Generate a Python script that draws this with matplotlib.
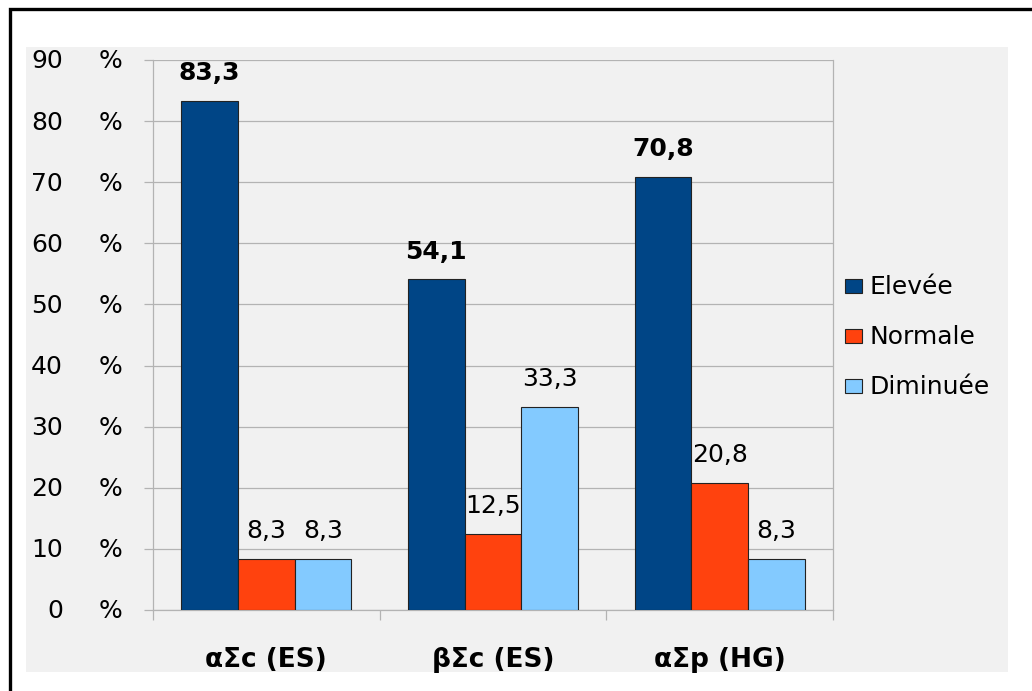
import matplotlib
matplotlib.use("Agg")
import matplotlib.pyplot as plt
import matplotlib.transforms as mtransforms
from matplotlib.patches import Rectangle
from matplotlib.lines import Line2D
import numpy as np

# Data
categories = ["αΣc (ES)", "βΣc (ES)", "αΣp (HG)"]
series_names = ["Elevée", "Normale", "Diminuée"]
elevee = [83.3, 54.1, 70.8]
normale = [8.3, 12.5, 20.8]
diminuee = [8.3, 33.3, 8.3]
y_ticks = [0, 10, 20, 30, 40, 50, 60, 70, 80, 90]

series_values = [elevee, normale, diminuee]
colors = ["#004586", "#ff420e", "#83caff"]
bold_labels = [True, False, False]

plt.rcParams["font.family"] = ["DejaVu Sans"]

W, H, DPI = 1032, 691, 100
fig = plt.figure(figsize=(W / DPI, H / DPI), dpi=DPI)
fig.patch.set_facecolor("white")

# light gray chart panel
bg = Rectangle((26 / W, 1 - 672 / H), (1008 - 26) / W, (672 - 47) / H,
               transform=fig.transFigure, facecolor="#f1f1f1", edgecolor="none", zorder=-10)
fig.patches.append(bg)

# black frame along the left and top (open towards right and bottom)
frame = Line2D([9.5 / W, 9.5 / W, 1.0], [0.0, 1 - 8.5 / H, 1 - 8.5 / H],
               transform=fig.transFigure, color="black", linewidth=2.4,
               solid_capstyle="butt", solid_joinstyle="miter", zorder=-9)
fig.lines.append(frame)

left, right, top, bottom = 153, 833, 60, 610
ax = fig.add_axes([left / W, 1 - bottom / H, (right - left) / W, (bottom - top) / H])
ax.set_facecolor("none")
ax.set_zorder(1)

n_series = len(series_values)
bar_w = 0.25
x = np.arange(len(categories))
grid_c = "#b3b3b3"
FS = 18

for i, (vals, col, bold) in enumerate(zip(series_values, colors, bold_labels)):
    offs = (i - (n_series - 1) / 2) * bar_w
    ax.bar(x + offs, vals, width=bar_w, color=col, edgecolor="#222222",
           linewidth=0.8, zorder=3 + i, label=series_names[i])
    for xi, v in zip(x + offs, vals):
        ax.annotate(f"{v:.1f}".replace(".", ","), (xi, v), xytext=(0, 15),
                    textcoords="offset points", ha="center", va="baseline",
                    fontsize=FS, fontweight="bold" if bold else "normal",
                    color="black", zorder=3.5 + i, annotation_clip=False)

ax.set_xlim(-0.5, len(categories) - 0.5)
ax.set_ylim(0, 90)

ax.set_yticks(y_ticks)
ax.set_yticklabels([])
ax.yaxis.grid(True, color=grid_c, linewidth=0.9, zorder=1)
ax.set_axisbelow(True)
ax.tick_params(axis="y", length=6.5, color=grid_c, width=0.9)

ax.set_xticks(np.arange(len(categories) + 1) - 0.5)
ax.set_xticklabels([])
ax.tick_params(axis="x", length=7.2, color=grid_c, width=0.9)

for s in ["left", "bottom", "right"]:
    ax.spines[s].set_color(grid_c)
    ax.spines[s].set_linewidth(0.9)
ax.spines["top"].set_visible(False)

# y tick labels: number and percent sign in two columns
down = mtransforms.ScaledTranslation(0, -8.5 / DPI, fig.dpi_scale_trans)
ytr = mtransforms.blended_transform_factory(fig.transFigure, ax.transData) + down
for t in y_ticks:
    fig.text(63 / W, t, str(t), transform=ytr, ha="right", va="baseline", fontsize=FS)
    fig.text(110 / W, t, "%", transform=ytr, ha="center", va="baseline", fontsize=FS)

# category labels
xtr = mtransforms.blended_transform_factory(ax.transData, fig.transFigure)
for xi, c in zip(x, categories):
    ax.text(xi, 1 - 667 / H, c, transform=xtr, ha="center", va="baseline",
            fontsize=19, fontweight="bold")

# legend
for i, (name, col) in enumerate(zip(series_names, colors)):
    cy = 286 + 50 * i
    sq = Rectangle((845 / W, 1 - (cy + 7) / H), 17 / W, 14 / H,
                   transform=fig.transFigure, facecolor=col, edgecolor="#222222",
                   linewidth=0.8, zorder=5)
    fig.patches.append(sq)
    fig.text(870 / W, 1 - (cy + 8) / H, name, ha="left", va="baseline",
             fontsize=18)

fig.savefig("out.png", dpi=DPI)
